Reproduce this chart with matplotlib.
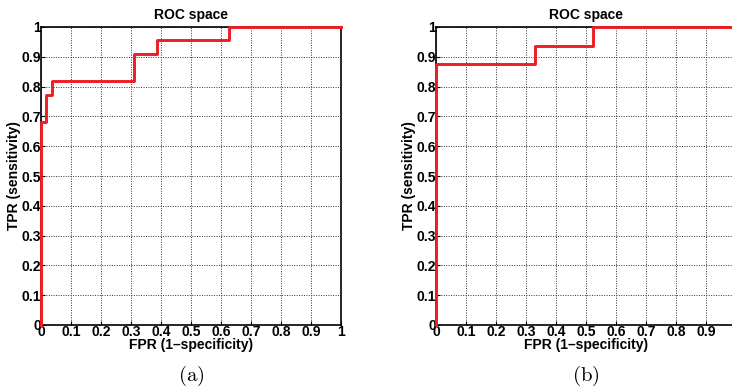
import numpy as np
import matplotlib
matplotlib.use("Agg")
import matplotlib.pyplot as plt

plt.rcParams['font.family'] = ['Liberation Sans', 'DejaVu Sans']
plt.rcParams['mathtext.fontset'] = 'cm'

# ROC curve (a): step points (FPR, TPR)
fpr_a = [0, 0, 0.017, 0.017, 0.035, 0.035, 0.31, 0.31, 0.385, 0.385, 0.627, 0.627, 1.0]
tpr_a = [0, 0.682, 0.682, 0.773, 0.773, 0.818, 0.818, 0.909, 0.909, 0.955, 0.955, 1.0, 1.0]

# ROC curve (b)
fpr_b = [0, 0, 0.331, 0.331, 0.522, 0.522, 1.0]
tpr_b = [0, 0.875, 0.875, 0.9375, 0.9375, 1.0, 1.0]

ticks = np.round(np.arange(0, 1.01, 0.1), 1)
tick_labels = ['0'] + ['%.1f' % t for t in ticks[1:-1]] + ['1']

fig = plt.figure(figsize=(7.32, 3.89), dpi=100)
W, H = 732.0, 389.0

panels = [
    (41, fpr_a, tpr_a, '(a)'),
    (436, fpr_b, tpr_b, '(b)'),
]

for left, fpr, tpr, tag in panels:
    ax = fig.add_axes([left / W, 1 - 325 / H, 300 / W, 298 / H])
    ax.plot(fpr, tpr, color='#ee1c24', lw=2.1, clip_on=False, zorder=5)
    ax.set_xlim(0, 1)
    ax.set_ylim(0, 1)
    ax.set_xticks(ticks)
    ax.set_yticks(ticks)
    ax.set_xticklabels(tick_labels, fontsize=10, fontweight='bold')
    ax.set_yticklabels(tick_labels, fontsize=10, fontweight='bold')
    ax.tick_params(direction='in', length=3, width=0.8, pad=0)
    ax.grid(True, linestyle=(0, (1, 1.5)), color='#333333', lw=0.7)
    for s in ax.spines.values():
        s.set_linewidth(1.2)
    ax.set_title('ROC space', fontsize=10, fontweight='bold', pad=6)
    ax.set_xlabel('FPR (1\u2013specificity)', fontsize=10, fontweight='bold', labelpad=-1)
    ax.set_ylabel('TPR (sensitivity)', fontsize=10, fontweight='bold', labelpad=0)
    fig.text((left + 150) / W, 1 - 376 / H, r'$(\mathrm{%s})$' % tag[1],
             ha='center', va='center', fontsize=15)

fig.savefig('out.png', dpi=100)
